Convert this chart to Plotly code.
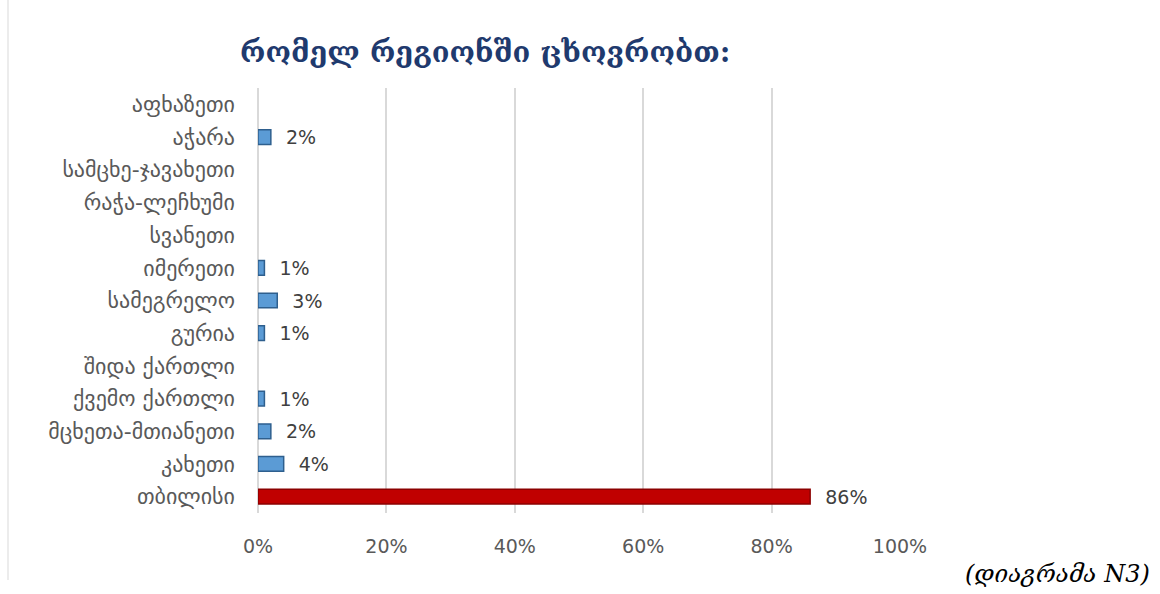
import plotly.graph_objects as go

# Regions, listed top to bottom as shown on the chart
regions = [
    "აფხაზეთი", "აჭარა", "სამცხე-ჯავახეთი", "რაჭა-ლეჩხუმი", "სვანეთი",
    "იმერეთი", "სამეგრელო", "გურია", "შიდა ქართლი", "ქვემო ქართლი",
    "მცხეთა-მთიანეთი", "კახეთი", "თბილისი",
]
shares = [0, 2, 0, 0, 0, 1, 3, 1, 0, 1, 2, 4, 86]  # percent of respondents

x_ticks = [0, 20, 40, 60, 80, 100]
x_tick_labels = ["0%", "20%", "40%", "60%", "80%", "100%"]

title_text = "რომელ რეგიონში ცხოვრობთ:"
caption_text = "(დიაგრამა N3)"

fill = ["#C00000" if r == "თბილისი" else "#5B9BD5" for r in regions]
edge = ["#8B0000" if r == "თბილისი" else "#2E5F8E" for r in regions]
edge_w = [1.5 if v > 0 else 0 for v in shares]
labels = [f"  {v}%" if v > 0 else "" for v in shares]

fig = go.Figure(
    go.Bar(
        y=regions,
        x=shares,
        orientation="h",
        marker=dict(color=fill, line=dict(color=edge, width=edge_w)),
        text=labels,
        textposition="outside",
        constraintext="none",
        cliponaxis=False,
        textfont=dict(family="DejaVu Sans", size=19, color="#404040"),
        hoverinfo="skip",
    )
)

fig.update_layout(
    width=1160,
    height=594,
    margin=dict(l=258, r=260, t=88, b=81),
    paper_bgcolor="white",
    plot_bgcolor="white",
    bargap=0.55,
    showlegend=False,
    xaxis=dict(
        range=[0, 100],
        tickvals=x_ticks,
        ticktext=x_tick_labels,
        showgrid=True,
        gridcolor="#D9D9D9",
        gridwidth=1.5,
        zeroline=True,
        zerolinecolor="#D9D9D9",
        zerolinewidth=1.5,
        showline=False,
        ticks="",
        ticklabelstandoff=20,
        tickfont=dict(family="DejaVu Sans", size=19, color="#595959"),
        fixedrange=True,
    ),
    yaxis=dict(
        categoryorder="array",
        categoryarray=regions,
        autorange="reversed",
        showgrid=False,
        showline=False,
        ticks="",
        ticklabelstandoff=22,
        tickfont=dict(family="DejaVu Sans", size=22, color="#595959"),
        fixedrange=True,
    ),
    annotations=[
        dict(
            text=title_text,
            xref="paper", yref="paper",
            x=(485 - 258) / 642, y=(513 - 52) / 425,
            xanchor="center", yanchor="middle",
            showarrow=False,
            font=dict(family="DejaVu Serif", size=29, color="#1F3A6E", weight="bold"),
        ),
        dict(
            text=f"<i>{caption_text}</i>",
            xref="paper", yref="paper",
            x=(1152 - 258) / 642, y=(513 - 574) / 425,
            xanchor="right", yanchor="middle",
            showarrow=False,
            font=dict(family="DejaVu Serif", size=24, color="#000000"),
        ),
    ],
    shapes=[
        dict(
            type="line", xref="paper", yref="paper",
            x0=(8 - 258) / 642, x1=(8 - 258) / 642,
            y0=(513 - 580) / 425, y1=(513 - 0) / 425,
            line=dict(color="#D9D9D9", width=1),
        )
    ],
)

fig.write_html("out.html")
